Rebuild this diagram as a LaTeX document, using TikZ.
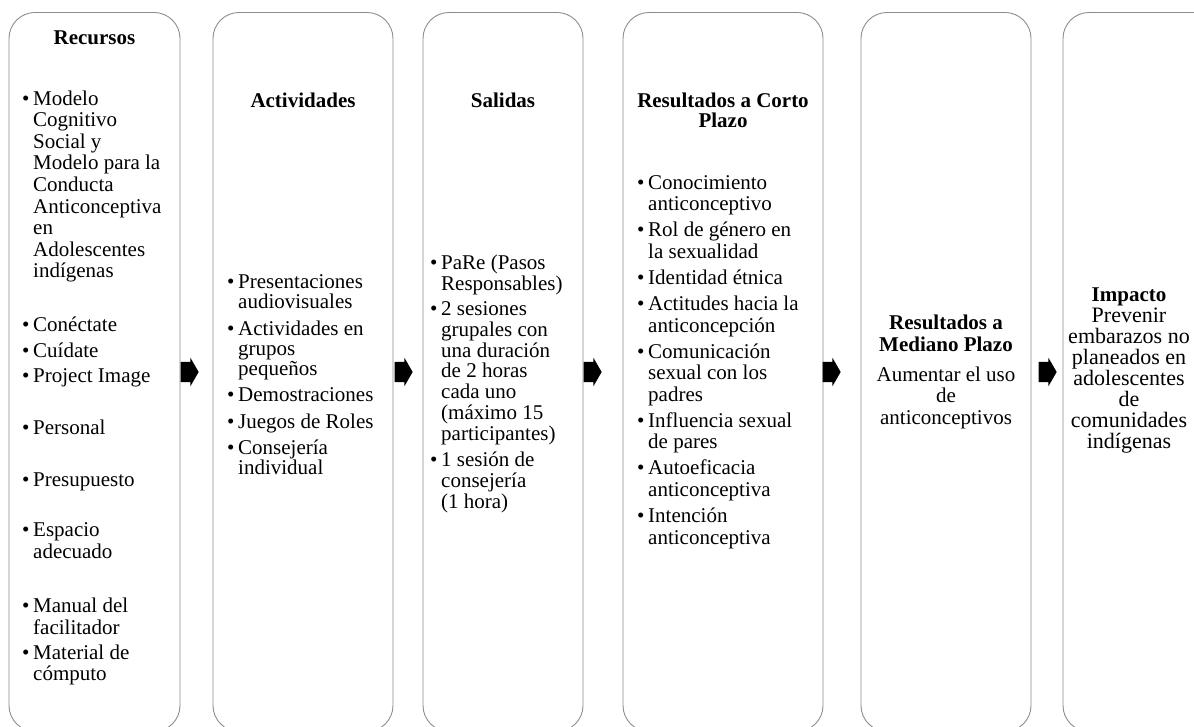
\documentclass[tikz,border=0pt]{standalone}
\usepackage{fontspec}
\setmainfont{Liberation Serif}
\usetikzlibrary{positioning,shapes.arrows}
\newcommand{\bul}{\makebox[11pt][l]{\textbullet}}
\newcommand{\ind}{\hspace*{11pt}}
\begin{document}
\begin{tikzpicture}[x=1pt,y=1pt,
  caja/.style={draw=black!45,line width=.9pt,rounded corners=26pt,minimum height=719pt,inner sep=0pt},
  lista/.style={anchor=base west,align=left,inner sep=0pt},
  titulo/.style={anchor=base,align=center,inner sep=0pt,font=\fontsize{21}{20}\selectfont\bfseries},
  flecha/.style={single arrow,fill=black,draw=none,minimum width=28pt,minimum height=18pt,
    single arrow head extend=4pt,single arrow tip angle=120,inner xsep=0pt,inner ysep=10pt}]
\useasboundingbox (0,0) rectangle (1194,726);
\node[caja,minimum width=171pt] (rec) at (94.5,354) {};
\node[caja,minimum width=180pt] (act) at (303,354) {};
\node[caja,minimum width=160pt] (sal) at (503,354) {};
\node[caja,minimum width=200pt] (cor) at (723,354) {};
\node[caja,minimum width=170pt] (med) at (946,354) {};
\node[caja,minimum width=172pt] (imp) at (1149,354) {};
\node[flecha,right=0pt of rec.east] (f1) {};
\node[flecha,right=1pt of act.east] (f2) {};
\node[flecha,right=0pt of sal.east] (f3) {};
\node[flecha,right=-1pt of cor.east] (f4) {};
\node[flecha,right=7pt of med.east] (f5) {};
% recursos
\node[titulo] (trec) at (94.5,681) {Recursos};
\node[lista,font=\fontsize{21}{21.6}\selectfont] (lrec) at (22,45.4) {\bul Modelo\\
\ind Cognitivo\\
\ind Social y\\
\ind Modelo para la\\
\ind Conducta\\
\ind Anticonceptiva\\
\ind en\\
\ind Adolescentes\\
\ind indígenas\\[32.4pt]
\bul Conéctate\\[4.4pt]
\bul Cuídate\\[3.4pt]
\bul Project Image\\[30.4pt]
\bul Personal\\[30.4pt]
\bul Presupuesto\\[28.4pt]
\bul Espacio\\
\ind adecuado\\[32.4pt]
\bul Manual del\\
\ind facilitador\\[3.4pt]
\bul Material de\\
\ind cómputo};
% actividades
\node[titulo] (tact) at (303,618.5) {Actividades};
\node[lista,font=\fontsize{21}{20}\selectfont] (lact) at (227,251) {\bul Presentaciones\\
\ind audiovisuales\\[6.5pt]
\bul Actividades en\\
\ind grupos\\
\ind pequeños\\[6.5pt]
\bul Demostraciones\\[6.5pt]
\bul Juegos de Roles\\[6.5pt]
\bul Consejería\\
\ind individual};
% salidas
\node[titulo] (tsal) at (503,618.5) {Salidas};
\node[lista,font=\fontsize{21}{20.9}\selectfont] (lsal) at (430,217.6) {\bul PaRe (Pasos\\
\ind Responsables)\\[3.5pt]
\bul 2 sesiones\\
\ind grupales con\\
\ind una duración\\
\ind de 2 horas\\
\ind cada uno\\
\ind (máximo 15\\
\ind participantes)\\[5pt]
\bul 1 sesión de\\
\ind consejería\\
\ind (1 hora)};
% corto plazo
\node[titulo] (tcor) at (723,598) {Resultados a Corto\\Plazo};
\node[lista,font=\fontsize{21}{21.6}\selectfont] (lcor) at (637,182) {\bul Conocimiento\\
\ind anticonceptivo\\[4.4pt]
\bul Rol de género en\\
\ind la sexualidad\\[4.4pt]
\bul Identidad étnica\\[4.4pt]
\bul Actitudes hacia la\\
\ind anticoncepción\\[4.4pt]
\bul Comunicación\\
\ind sexual con los\\
\ind padres\\[4.4pt]
\bul Influencia sexual\\
\ind de pares\\[4.4pt]
\bul Autoeficacia\\
\ind anticonceptiva\\[4.4pt]
\bul Intención\\
\ind anticonceptiva};
% mediano plazo
\node[anchor=base,align=center,inner sep=0pt,font=\fontsize{21}{21.5}\selectfont] (tmed) at (946,301.5)
  {\textbf{Resultados a}\\\textbf{Mediano Plazo}\\[8.5pt]Aumentar el uso\\de\\anticonceptivos};
% impacto
\node[anchor=base,align=center,inner sep=0pt,font=\fontsize{22}{21}\selectfont] (timp) at (1129,277)
  {{\fontsize{21}{21}\selectfont\textbf{Impacto}}\\Prevenir\\embarazos no\\planeados en\\adolescentes\\de\\comunidades\\indígenas};
\end{tikzpicture}
\end{document}
